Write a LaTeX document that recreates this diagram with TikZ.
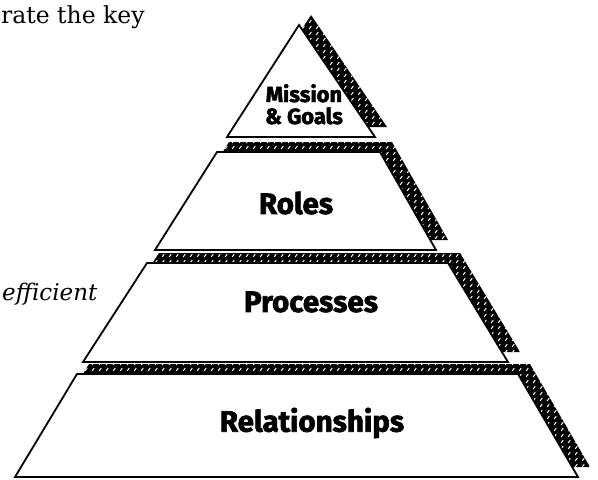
\documentclass[tikz,border=0pt]{standalone}
\usepackage{fontspec}
\setmainfont{DejaVu Serif}
\newfontfamily\tierfont{Fira Sans}[BoldFeatures={FakeBold=2.2}]
\usetikzlibrary{patterns}

% short white slanted marks on the black extrusion bands
\pgfdeclarepatternformonly{slantmarks}{\pgfpoint{0pt}{0pt}}{\pgfpoint{7pt}{6pt}}{\pgfpoint{7pt}{6pt}}{%
  \pgfsetlinewidth{1.1pt}%
  \pgfsetroundcap
  \pgfpathmoveto{\pgfpoint{1.5pt}{1.5pt}}%
  \pgfpathlineto{\pgfpoint{3.6pt}{4.3pt}}%
  \pgfusepath{stroke}}

\tikzset{
  face/.style={draw=black, fill=white, line width=1.8pt, line join=miter},
  band/.style={fill=black},
  bandmarks/.style={pattern=slantmarks, pattern color=white},
  tierlabel/.style={font=\tierfont\bfseries\fontsize{29.5}{30}\selectfont, inner sep=0pt},
  toplabel/.style={font=\tierfont\bfseries\fontsize{22}{22}\selectfont, inner sep=0pt},
  prose/.style={font=\fontsize{23.5}{26}\selectfont, inner sep=0pt, anchor=base west},
}

% one block of the pyramid: extrusion band shifted up-right, then the white face
\newcommand{\pyrblock}[1]{%
  \fill[band, shift={(12,-10)}] #1 -- cycle;
  \fill[bandmarks, shift={(12,-10)}] #1 -- cycle;
  \draw[face] #1 -- cycle;
}

\begin{document}
\begin{tikzpicture}[x=1pt, y=-1pt]
  \useasboundingbox (0,0) rectangle (598,480);

  % pyramid blocks, top to bottom
  \pyrblock{(227,137) -- (299,25) -- (375,137)}
  \pyrblock{(217,152) -- (380,152) -- (436,250) -- (155,250)}
  \pyrblock{(147,263) -- (448,263) -- (508,362) -- (83,362)}
  \pyrblock{(77,374) -- (518,374) -- (578,477) -- (15,477)}

  % tier labels (the top one set as two lines on their own baselines)
  \node[toplabel, anchor=base] (mission) at (304,102) {Mission};
  \node[toplabel, anchor=base] (goals) at (304,124) {\& Goals};
  \node[tierlabel] (roles) at (296,203) {Roles};
  \node[tierlabel] (processes) at (311,302) {Processes};
  \node[tierlabel] (relationships) at (312,423) {Relationships};

  % surrounding text
  \node[prose] (keytext) at (1,23) {rate the key};
  \node[prose, font=\itshape\fontsize{23}{26}\selectfont] (efficient) at (2,300) {efficient};
\end{tikzpicture}
\end{document}
